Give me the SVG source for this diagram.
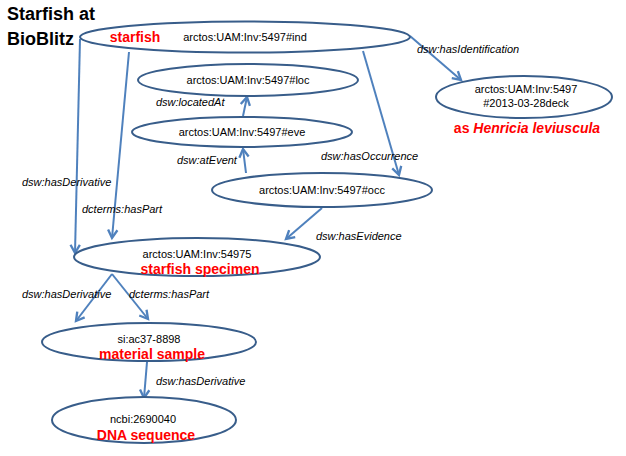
<svg xmlns="http://www.w3.org/2000/svg" width="626" height="456" viewBox="0 0 626 456">
<defs>
<style>
.node ellipse{fill:#fff;stroke:#385d8a;stroke-width:2}
.t{font-family:"Liberation Sans",Arial,sans-serif;font-size:11px;fill:#000;text-anchor:middle}
.r{font-family:"Liberation Sans",Arial,sans-serif;font-size:14px;font-weight:bold;fill:#ff0000;text-anchor:middle}
.lbl{font-family:"Liberation Sans",Arial,sans-serif;font-size:11px;font-style:italic;fill:#000}
.title{font-family:"Liberation Sans",Arial,sans-serif;font-size:18px;font-weight:bold;fill:#000}
#edges line{stroke:#4f81bd;stroke-width:2;marker-end:url(#arr)}
</style>
<marker id="arr" markerUnits="userSpaceOnUse" markerWidth="14" markerHeight="14" viewBox="-8 -6 10 12" refX="0" refY="0" orient="auto">
<path d="M-7,-4 L0,0 L-7,4" fill="none" stroke="#4f81bd" stroke-width="2"/>
</marker>
</defs>
<rect width="626" height="456" fill="#fff"/>
<text class="title" x="7" y="20">Starfish at</text>
<text class="title" x="7" y="45">BioBlitz</text>
<g id="edges">
<line x1="410" y1="36" x2="461" y2="80"/>
<line x1="363" y1="51" x2="399" y2="175"/>
<line x1="243" y1="116" x2="247" y2="97"/>
<line x1="246" y1="173" x2="243" y2="149"/>
<line x1="322" y1="208" x2="286" y2="239"/>
<line x1="80" y1="39" x2="75" y2="253"/>
<line x1="129" y1="52" x2="112" y2="238"/>
<line x1="112" y1="274" x2="76" y2="321"/>
<line x1="112" y1="274" x2="148" y2="319"/>
<line x1="147" y1="362" x2="144" y2="398"/>
</g>
<g id="labels">
<text class="lbl" x="417" y="53">dsw:hasIdentification</text>
<text class="lbl" x="156" y="106">dsw:locatedAt</text>
<text class="lbl" x="177" y="164">dsw:atEvent</text>
<text class="lbl" x="321" y="160">dsw:hasOccurrence</text>
<text class="lbl" x="22" y="186">dsw:hasDerivative</text>
<text class="lbl" x="82" y="213">dcterms:hasPart</text>
<text class="lbl" x="316" y="240">dsw:hasEvidence</text>
<text class="lbl" x="22" y="298">dsw:hasDerivative</text>
<text class="lbl" x="129" y="298">dcterms:hasPart</text>
<text class="lbl" x="156" y="385">dsw:hasDerivative</text>
</g>
<g id="ind" class="node">
<ellipse cx="245" cy="37" rx="165" ry="15.5"/>
<text class="r" x="135" y="42">starfish</text>
<text class="t" x="245" y="41">arctos:UAM:Inv:5497#ind</text>
</g>
<g id="loc" class="node">
<ellipse cx="248" cy="80" rx="110" ry="16"/>
<text class="t" x="248" y="84">arctos:UAM:Inv:5497#loc</text>
</g>
<g id="eve" class="node">
<ellipse cx="242" cy="132" rx="110" ry="15"/>
<text class="t" x="242" y="136">arctos:UAM:Inv:5497#eve</text>
</g>
<g id="occ" class="node">
<ellipse cx="322" cy="190" rx="110" ry="17"/>
<text class="t" x="322" y="194">arctos:UAM:Inv:5497#occ</text>
</g>
<g id="ident" class="node">
<ellipse cx="524" cy="97" rx="88" ry="21"/>
<text class="t" x="526" y="93">arctos:UAM:Inv:5497</text>
<text class="t" x="526" y="107">#2013-03-28deck</text>
<text class="r" x="527" y="133">as <tspan font-style="italic">Henricia leviuscula</tspan></text>
</g>
<g id="specimen" class="node">
<ellipse cx="197" cy="257" rx="123" ry="19"/>
<text class="t" x="197" y="258">arctos:UAM:Inv:54975</text>
<text class="r" x="200" y="273.5">starfish specimen</text>
</g>
<g id="material" class="node">
<ellipse cx="149" cy="342" rx="107" ry="19"/>
<text class="t" x="149" y="343">si:ac37-8898</text>
<text class="r" x="152" y="358.5">material sample</text>
</g>
<g id="dna" class="node">
<ellipse cx="144" cy="420" rx="92" ry="23"/>
<text class="t" x="143" y="423">ncbi:2690040</text>
<text class="r" x="146" y="439.5">DNA sequence</text>
</g>
</svg>
